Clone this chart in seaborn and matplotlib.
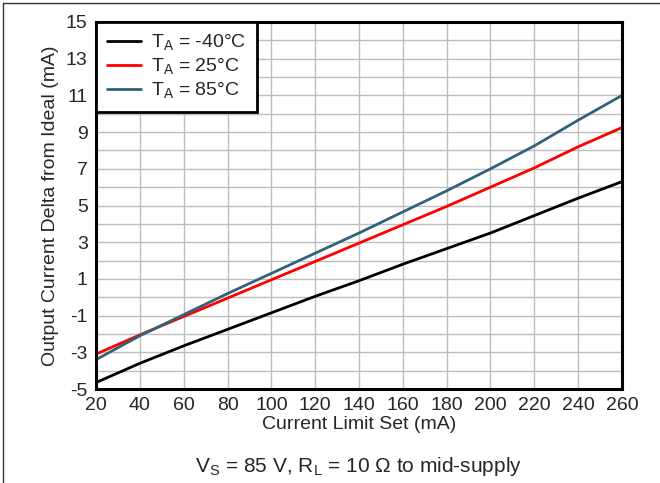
import matplotlib
matplotlib.use("Agg")
import matplotlib.pyplot as plt
import seaborn as sns
import pandas as pd
import numpy as np
from matplotlib.lines import Line2D

# ── Data ──────────────────────────────────────────────────────────────
current_set = [20, 40, 60, 80, 100, 120, 140, 160, 180, 200, 220, 240, 260]
delta_m40 = [-4.65, -3.6, -2.65, -1.75, -0.85, 0.05, 0.9, 1.8, 2.65, 3.5, 4.45, 5.4, 6.3]
delta_25 = [-3.1, -2.05, -1.05, -0.05, 0.95, 1.95, 2.95, 3.95, 4.95, 6.0, 7.05, 8.2, 9.25]
delta_85 = [-3.4, -2.1, -0.95, 0.2, 1.3, 2.4, 3.5, 4.65, 5.8, 7.0, 8.25, 9.65, 11.0]

labels = [r"T$_\mathregular{A}$ = -40°C", r"T$_\mathregular{A}$ = 25°C",
          r"T$_\mathregular{A}$ = 85°C"]
colors = ["#000000", "#FF0000", "#31627A"]

df = pd.concat([
    pd.DataFrame({"current": current_set, "delta": d, "temp": lab})
    for d, lab in zip([delta_m40, delta_25, delta_85], labels)
])

sns.set_style("white")
plt.rcParams["font.family"] = ["Liberation Sans", "DejaVu Sans"]
plt.rcParams["mathtext.fontset"] = "custom"
plt.rcParams["mathtext.rm"] = "Liberation Sans"
plt.rcParams["axes.unicode_minus"] = False

fig = plt.figure(figsize=(6.6, 4.83), dpi=100)
ax = fig.add_axes([96 / 660, 1 - 389 / 483, (622 - 96) / 660, (389 - 22) / 483])

sns.lineplot(data=df, x="current", y="delta", hue="temp", palette=colors,
             linewidth=2, ax=ax, legend=False)

ax.set_xlim(20, 260)
ax.set_ylim(-5, 15)
ax.set_xticks(np.arange(20, 261, 20))
ax.set_yticks(np.arange(-5, 16, 2))
ax.set_yticks(np.arange(-5, 16, 1), minor=True)
ax.grid(True, which="both", color="#BDBDBD", linewidth=1)
ax.set_axisbelow(True)
ax.tick_params(which="both", length=0, labelsize=14, pad=6)
for sp in ax.spines.values():
    sp.set_visible(True)
    sp.set_color("black")
    sp.set_linewidth(2.2)

ax.set_xlabel("Current Limit Set (mA)", fontsize=14, labelpad=1)
ax.set_ylabel("Output Current Delta from Ideal (mA)", fontsize=14, labelpad=5)

handles = [Line2D([0], [0], color=c, lw=2) for c in colors]
leg = ax.legend(handles, labels, loc="upper left", fontsize=14, frameon=True,
                fancybox=False, borderaxespad=0, handlelength=1.75,
                labelspacing=0.2, borderpad=0.55, handletextpad=0.55)
leg.get_frame().set_edgecolor("black")
leg.get_frame().set_linewidth(2)
leg.get_frame().set_alpha(1)

fig.text(359 / 660, 1 - 466 / 483, r"V$_\mathregular{S}$ = 85 V, R$_\mathregular{L}$ = 10 Ω to mid-supply",
         ha="center", va="center", fontsize=15)

# outer frame (top and left visible in reference)
fig.add_artist(Line2D([3 / 660, 3 / 660], [0, 1 - 3 / 483], transform=fig.transFigure,
                      color="#333333", lw=1))
fig.add_artist(Line2D([3 / 660, 1], [1 - 3 / 483, 1 - 3 / 483], transform=fig.transFigure,
                      color="#333333", lw=1))

fig.savefig("out.png", dpi=100)
